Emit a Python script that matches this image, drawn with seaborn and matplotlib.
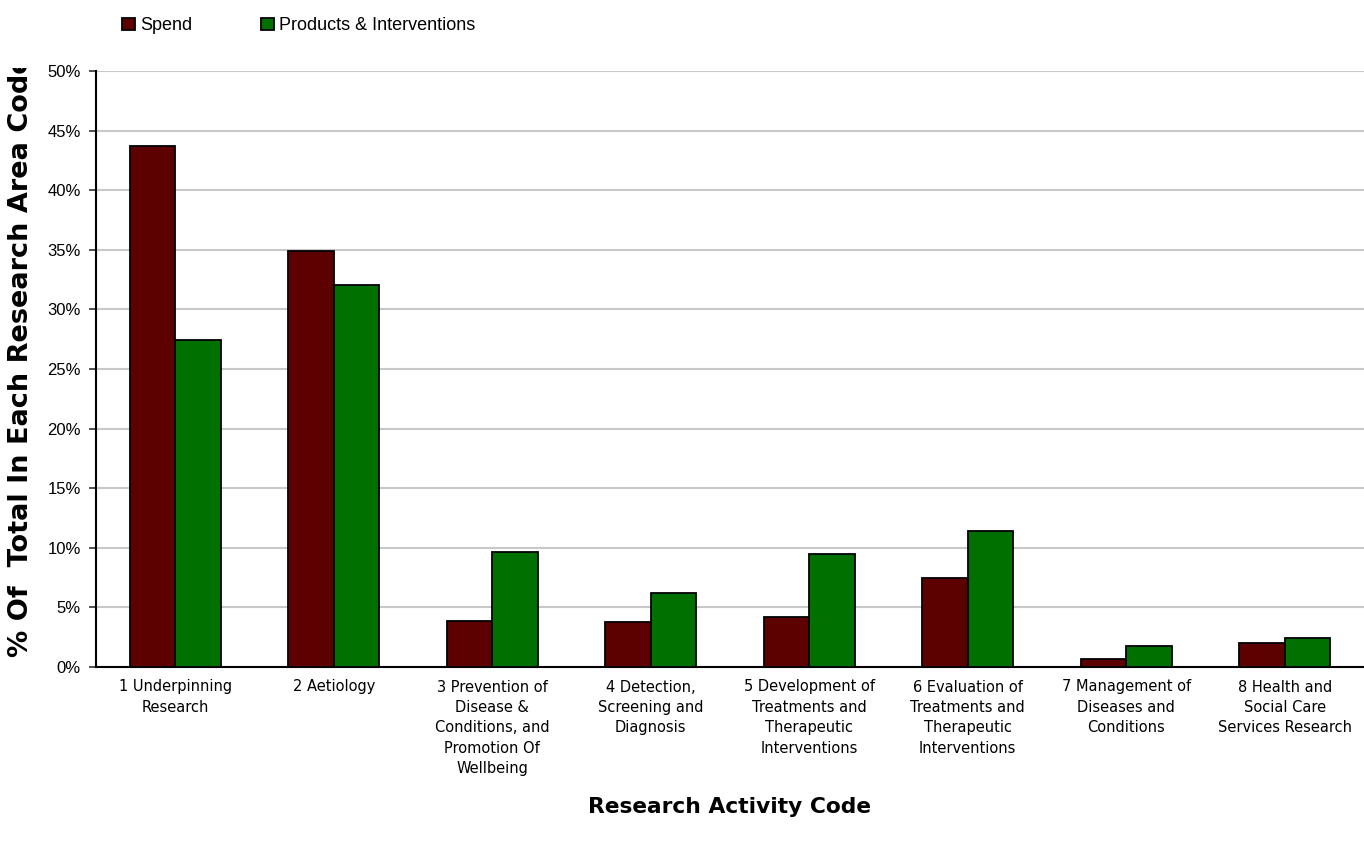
import pandas as pd
import numpy as np
import seaborn as sns
import matplotlib.pyplot as plt
from matplotlib.transforms import Bbox

# data
categories = [
    "1 Underpinning\nResearch",
    "2 Aetiology",
    "3 Prevention of\nDisease &\nConditions, and\nPromotion Of\nWellbeing",
    "4 Detection,\nScreening and\nDiagnosis",
    "5 Development of\nTreatments and\nTherapeutic\nInterventions",
    "6 Evaluation of\nTreatments and\nTherapeutic\nInterventions",
    "7 Management of\nDiseases and\nConditions",
    "8 Health and\nSocial Care\nServices Research",
]
spend = [43.75, 34.9, 3.9, 3.8, 4.2, 7.45, 0.7, 2.0]
products = [27.4, 32.05, 9.65, 6.2, 9.5, 11.4, 1.75, 2.4]
series_names = ["Spend", "Products & Interventions"]
colors = ["#5C0000", "#007000"]
y_ticks = [0, 5, 10, 15, 20, 25, 30, 35, 40, 45, 50]

df = pd.DataFrame({
    "code": categories * 2,
    "series": [series_names[0]] * len(categories) + [series_names[1]] * len(categories),
    "pct": spend + products,
})

sns.set_style("white")
plt.rcParams["font.family"] = ["Liberation Sans", "DejaVu Sans"]
for k in ["text.color", "axes.labelcolor", "xtick.color", "ytick.color"]:
    plt.rcParams[k] = "black"

fig = plt.figure(figsize=(13.64, 8.41), dpi=100)
ax = fig.add_axes([96 / 1364, 1 - 667 / 841, 1 - 96 / 1364, (667 - 71) / 841])

sns.barplot(data=df, x="code", y="pct", hue="series", palette=colors,
            width=0.575, edgecolor="black", linewidth=1.3, saturation=1,
            ax=ax, zorder=3)

ax.set_xlim(-0.5, len(categories) - 0.5)
ax.set_ylim(0, 50)
ax.set_yticks(y_ticks)
ax.set_yticklabels([f"{t}%" for t in y_ticks], fontsize=12)
ax.yaxis.grid(True, color="#C8C8C8", linewidth=1.5, zorder=0)
ax.set_axisbelow(True)

# x tick labels under categories, ticks at the category boundaries
ax.set_xticks(range(len(categories)))
ax.set_xticklabels(categories, fontsize=10.5, linespacing=1.45,
                   family=["DejaVu Sans Condensed", "DejaVu Sans"])
ax.set_xticks(np.arange(-0.5, len(categories), 1), minor=True)
ax.tick_params(axis="x", which="major", length=0, pad=9)
ax.tick_params(axis="x", which="minor", length=5, width=1.2, color="#333333", direction="out")
ax.tick_params(axis="y", length=5, width=1.2, color="#333333", direction="out", pad=6, left=True)

for s in ["top", "right"]:
    ax.spines[s].set_visible(False)
for s in ["left", "bottom"]:
    ax.spines[s].set_color("black")
    ax.spines[s].set_linewidth(1.5)

ax.set_xlabel("")
ax.set_ylabel("")
fig.text(730 / 1364, 1 - 807 / 841, "Research Activity Code", ha="center", va="center",
         fontsize=15.7, fontweight="bold", family=["DejaVu Sans"])

# y label clipped at the top of the plot area like the original
ylab = fig.text(21 / 1364, 1 - 657 / 841, "% Of  Total In Each Research Area Code",
                rotation=90, ha="center", va="bottom", fontsize=19.5, fontweight="bold",
                family=["DejaVu Sans"])
ylab.set_clip_box(Bbox([[0, 0], [96, 841 - 68]]))
ylab.set_clip_on(True)

leg = ax.legend(loc="upper left", bbox_to_anchor=(106 / 1364, 1 - 1 / 841),
                bbox_transform=fig.transFigure, ncol=2, frameon=False,
                fontsize=13, handlelength=0.7, handleheight=0.7,
                handletextpad=0.3, columnspacing=3.8)
for h in leg.legend_handles:
    h.set_edgecolor("black")

fig.savefig("out.png", dpi=100)
